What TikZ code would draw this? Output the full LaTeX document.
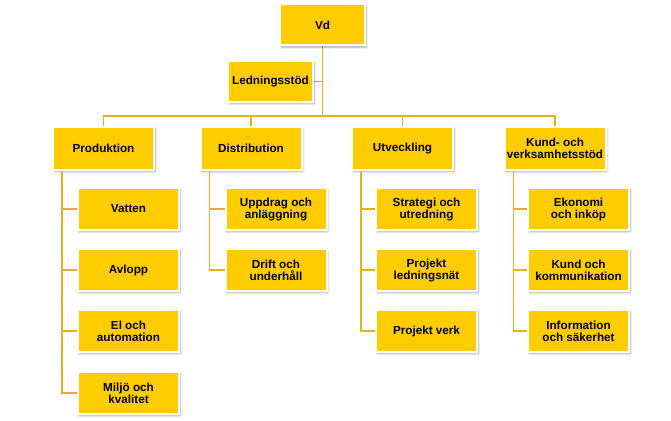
\documentclass[tikz,border=0pt]{standalone}
\usepackage{fontspec}
\setmainfont{Liberation Sans}
\usetikzlibrary{shadows.blur}
\definecolor{boxfill}{HTML}{FFCC00}
\definecolor{linegold}{HTML}{E2B11C}
\begin{document}
\begin{tikzpicture}[x=1pt,y=-1pt,
  orgbox/.style={draw=white, line width=2pt, fill=boxfill,
    minimum width=101pt, minimum height=42pt, inner sep=1pt,
    align=center, font=\fontsize{11.7}{12}\selectfont\bfseries,
    blur shadow={shadow xshift=1.2pt, shadow yshift=-1.6pt, shadow blur steps=5, shadow opacity=35}},
  topbox/.style={orgbox, minimum width=85pt, minimum height=41pt},
  conn/.style={draw=linegold, line width=1.8pt}]
\useasboundingbox (0,0) rectangle (671,420);
% connectors first (behind boxes)
\coordinate (bus) at (322.5,116);
\coordinate (vdp) at (322.5,25);
\coordinate (ledp) at (270.5,81.5);
\coordinate (prodp) at (103.5,148.5);
\coordinate (distp) at (251,148.5);
\coordinate (utvp) at (402.5,148.5);
\coordinate (kundp) at (555,148.5);
\draw[conn] (vdp) -- (bus);
\draw[conn] (ledp) -- (ledp -| bus);
\draw[conn] (prodp) |- (bus) -| (kundp);
\draw[conn] (distp) -- (distp |- bus);
\draw[conn] (utvp) -- (utvp |- bus);

\node[topbox] (vd) at (vdp) {Vd};
\node[topbox] (led) at (ledp) {Ledningsstöd};

\node[orgbox, minimum height=43pt] (prod) at (prodp) {Produktion};
\node[orgbox, minimum height=43pt] (dist) at (distp) {Distribution};
\node[orgbox, minimum height=43pt] (utv) at (utvp) {Utveckling};
\node[orgbox, minimum height=43pt] (kund) at (kundp) {Kund- och\\verksamhetsstöd};

% children
\node[orgbox] (vatten) at (128.5,209) {Vatten};
\node[orgbox] (avlopp) at (128.5,270) {Avlopp};
\node[orgbox] (el) at (128.5,331) {El och\\automation};
\node[orgbox] (miljo) at (128.5,393) {Miljö och\\kvalitet};

\node[orgbox] (uppdrag) at (276,209) {Uppdrag och\\anläggning};
\node[orgbox] (drift) at (276,270) {Drift och\\underhåll};

\node[orgbox] (strategi) at (426.5,209) {Strategi och\\utredning};
\node[orgbox] (pln) at (426.5,270) {Projekt\\ledningsnät};
\node[orgbox] (pverk) at (426.5,331) {Projekt verk};

\node[orgbox] (ekonomi) at (578.5,209) {Ekonomi\\och inköp};
\node[orgbox] (kundkom) at (578.5,270) {Kund och\\kommunikation};
\node[orgbox] (info) at (578.5,331) {Information\\och säkerhet};

% child connectors
\foreach \p/\c in {prod/vatten, prod/avlopp, prod/el, prod/miljo,
                   dist/uppdrag, dist/drift,
                   utv/strategi, utv/pln, utv/pverk,
                   kund/ekonomi, kund/kundkom, kund/info}
  \draw[conn] ([xshift=10pt]\p.south west) |- (\c.west);
\end{tikzpicture}
\end{document}
